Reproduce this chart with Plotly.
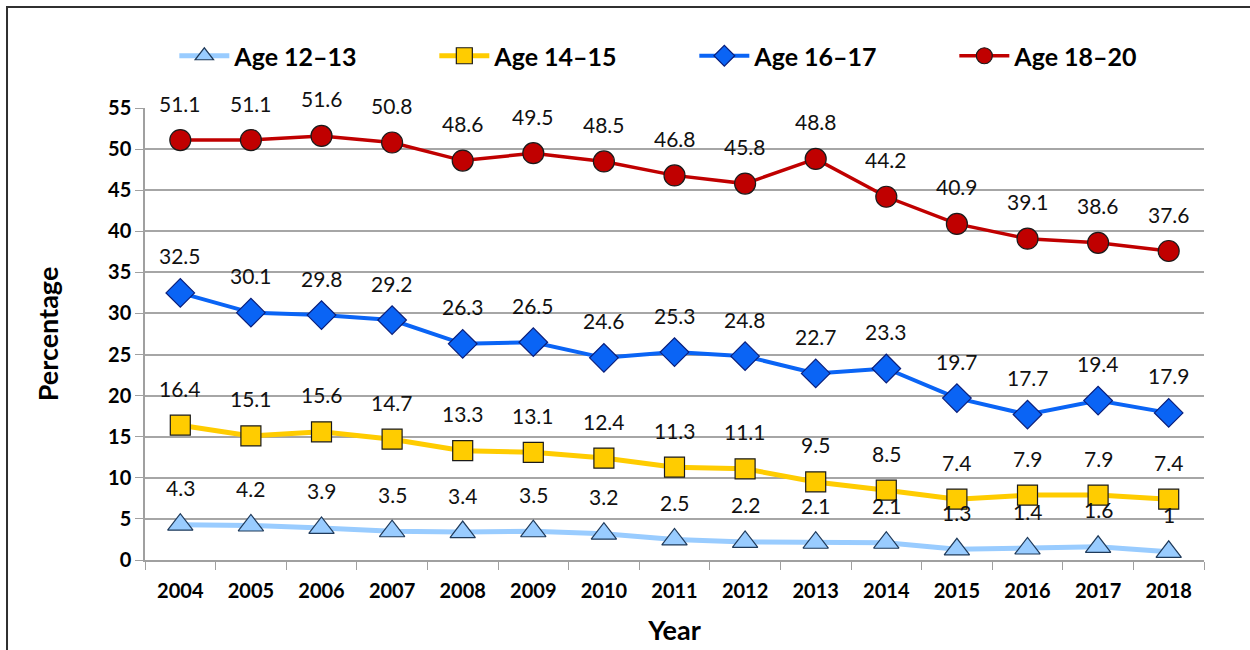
import plotly.graph_objects as go

years = ["2004", "2005", "2006", "2007", "2008", "2009", "2010", "2011",
         "2012", "2013", "2014", "2015", "2016", "2017", "2018"]
age_12_13 = [4.3, 4.2, 3.9, 3.5, 3.4, 3.5, 3.2, 2.5, 2.2, 2.1, 2.1, 1.3, 1.4, 1.6, 1]
age_14_15 = [16.4, 15.1, 15.6, 14.7, 13.3, 13.1, 12.4, 11.3, 11.1, 9.5, 8.5, 7.4, 7.9, 7.9, 7.4]
age_16_17 = [32.5, 30.1, 29.8, 29.2, 26.3, 26.5, 24.6, 25.3, 24.8, 22.7, 23.3, 19.7, 17.7, 19.4, 17.9]
age_18_20 = [51.1, 51.1, 51.6, 50.8, 48.6, 49.5, 48.5, 46.8, 45.8, 48.8, 44.2, 40.9, 39.1, 38.6, 37.6]

series = [
    ("Age 12\u201313", age_12_13, "#99CCFF", 5, "triangle-up", 22, "#1F3A5A"),
    ("Age 14\u201315", age_14_15, "#FFCC00", 5, "square", 20, "#1A1A1A"),
    ("Age 16\u201317", age_16_17, "#0A64F5", 4, "diamond", 22, "#0A1E7A"),
    ("Age 18\u201320", age_18_20, "#C00000", 3.5, "circle", 21, "#1A1A1A"),
]

FONT = "Lato"
fig = go.Figure()
annotations = []
for name, vals, col, lw, sym, ms, edge in series:
    fig.add_trace(go.Scatter(
        x=years, y=vals, name=name, mode="lines+markers",
        line=dict(color=col, width=lw),
        marker=dict(symbol=sym, size=ms, color=col, line=dict(color=edge, width=1.2)),
    ))
    for i, yv in enumerate(vals):
        annotations.append(dict(
            x=i, y=yv, xref="x", yref="y", text=f"{yv:g}", showarrow=False, yshift=37,
            font=dict(family=FONT, size=21, color="#111111"),
        ))

fig.update_layout(
    width=1250, height=650,
    paper_bgcolor="white", plot_bgcolor="white",
    margin=dict(l=145, r=46, t=108, b=90, autoexpand=False),
    font=dict(family=FONT, color="#000000"),
    showlegend=True,
    legend=dict(
        orientation="h", x=0.0277, xanchor="left", y=1.115, yanchor="middle",
        font=dict(family=FONT, size=25, color="#000000", weight="bold"),
        itemwidth=50, entrywidth=195, entrywidthmode="pixels",
        traceorder="normal", bgcolor="rgba(0,0,0,0)",
    ),
    annotations=annotations,
    xaxis=dict(
        type="category", range=[-0.5, 14.5],
        showgrid=False, showline=True, linecolor="#A0A0A0", linewidth=1.5,
        ticks="outside", ticklen=8, tickcolor="#A0A0A0", tickson="boundaries",
        ticklabelstandoff=12,
        tickfont=dict(family=FONT, size=20, weight="bold"),
        title=dict(text="Year", font=dict(family=FONT, size=27, weight="bold"), standoff=20),
    ),
    yaxis=dict(
        range=[0, 55], dtick=5, tick0=0,
        showgrid=True, gridcolor="#A6A6A6", gridwidth=1.5,
        showline=True, linecolor="#A0A0A0", linewidth=1.5,
        ticks="outside", ticklen=8, tickcolor="#A0A0A0",
        zeroline=False,
        tickfont=dict(family=FONT, size=20, weight="bold"),
        title=dict(text="Percentage", font=dict(family=FONT, size=27, weight="bold"), standoff=42),
    ),
    shapes=[dict(
        type="rect", xref="paper", yref="paper",
        x0=-0.1303, x1=1.08, y0=-0.3, y1=1.2235,
        line=dict(color="#303030", width=2), fillcolor="rgba(0,0,0,0)", layer="below",
    )],
)

fig.write_html("out.html", config={"displayModeBar": False},
               post_script="document.body.style.margin='0';")
